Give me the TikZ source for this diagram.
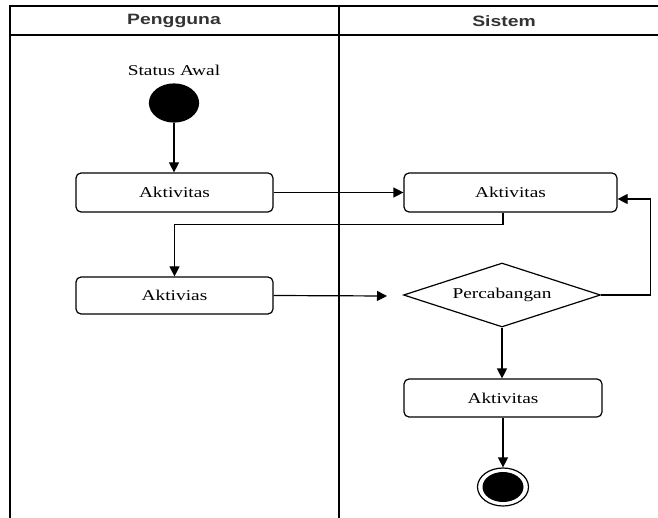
\documentclass[tikz,border=0pt]{standalone}
\usepackage{fontspec}
\setmainfont[FakeStretch=1.29]{Liberation Serif}
\newfontfamily\hdrfont[FakeStretch=1.29]{Liberation Sans}
\usetikzlibrary{shapes.geometric,arrows.meta,calc}
\begin{document}
\begin{tikzpicture}[x=1pt,y=-1pt,line width=1.2pt,
  txt/.style={font=\fontsize{15}{18}\selectfont},
  hdr/.style={font=\hdrfont\bfseries\fontsize{15}{18}\selectfont, text=black!80},
  act/.style={draw, rounded corners=5pt, minimum width=197pt, minimum height=39pt, inner sep=0pt, txt},
  dec/.style={draw, diamond, aspect=3, minimum width=197pt, minimum height=64pt, inner sep=0pt, txt},
  frame/.style={line width=1.5pt},
  arr/.style={-{Triangle[length=10pt,width=10pt]}}
]
\useasboundingbox (0,0) rectangle (658,518);
% swimlane frame
\draw[frame] (10,518) -- (10,6) -- (658,6);
\draw[frame] (10,35) -- (658,35);
\draw[frame] (339,6) -- (339,518);
\node[hdr] (h1) at (174,21) {Pengguna};
\node[hdr] (h2) at (504,21) {Sistem};
% nodes
\node[txt] (lbl) at (174,70) {Status Awal};
\node[draw, fill=black, ellipse, minimum width=49pt, minimum height=38pt, inner sep=0pt] (start) at (174,103) {};
\node[act] (a1) at (174.5,192.5) {Aktivitas};
\node[act, minimum width=213pt] (a2) at (510.5,192.5) {Aktivitas};
\node[act, minimum height=37pt] (a3) at (174.5,295.5) {Aktivias};
\node[dec] (d) at (502,295) {Percabangan};
\node[act, minimum width=198pt, minimum height=38pt] (a4) at (503,398) {Aktivitas};
\node[draw, fill=white, ellipse, minimum width=51pt, minimum height=38pt, inner sep=0pt] (endo) at (503,487) {};
\node[fill=black, ellipse, minimum width=41pt, minimum height=30pt, inner sep=0pt] (endi) at (503,487) {};
% connectors
\coordinate (dtip) at (387,296);
\coordinate (a2in) at ($(a2.east)+(0,6.5)$);
\draw[arr] (start) -- (start |- a1.north);
\draw[arr] (a1) -- (a2);
\draw[arr] (a2.south -| a4.north) -- ++(0,12) -| (a3.north);
\draw[arr] (a3.east) -- (dtip);
\draw[arr] (d.east) -- ++(49,0) |- (a2in);
\draw[arr] (d.south) -- (d.south |- a4.north);
\draw[arr] (a4) -- (endo);
\end{tikzpicture}
\end{document}
